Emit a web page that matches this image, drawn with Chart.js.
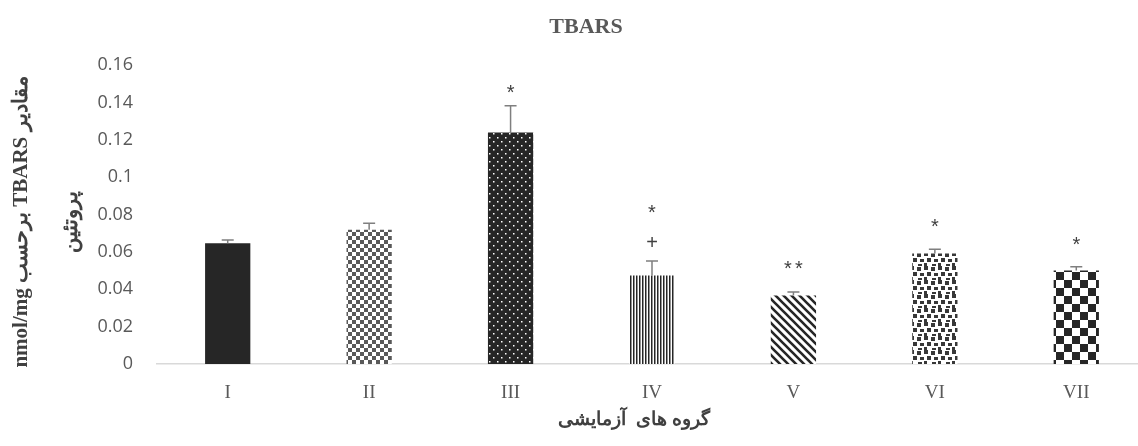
<!DOCTYPE html>
<html>
<head>
<meta charset="utf-8">
<script src="https://cdn.jsdelivr.net/npm/chart.js@4.4.1/dist/chart.umd.min.js"></script>
<style>
  html, body { margin: 0; padding: 0; background: #fff; overflow: hidden; }
  #wrap { position: relative; width: 1148px; height: 446px; }
</style>
</head>
<body>
<div id="wrap"><canvas id="chart" width="1148" height="446"></canvas></div>
<script>
// values
const categories = ['I', 'II', 'III', 'IV', 'V', 'VI', 'VII'];
const means = [0.0646, 0.0719, 0.1239, 0.0474, 0.0366, 0.0591, 0.0500];
const errors = [0.0017, 0.0034, 0.0143, 0.0077, 0.0019, 0.0023, 0.0021];
const marks = ['', '', '*', '*', '**', '*', '*'];
const markLevels = [null, null, 0.1471, 0.0828, 0.0528, 0.0753, 0.0657];
const extraMarks = ['', '', '', '+', '', '', ''];
const extraLevels = [null, null, null, 0.0646, null, null, null];
const yTicks = [0, 0.02, 0.04, 0.06, 0.08, 0.1, 0.12, 0.14, 0.16];

const chartTitle = 'TBARS';
const yTitleLines = ['مقادیر TBARS برحسب nmol/mg', 'پروتئین'];
const xTitle = 'گروه های  آزمایشی';

const DARK = '#262626';
const GREY = '#595959';

// pattern fills, one per bar
function makePattern(size, draw) {
    const c = document.createElement('canvas');
    c.width = size;
    c.height = size;
    const g = c.getContext('2d');
    draw(g, size);
    return document.getElementById('chart').getContext('2d').createPattern(c, 'repeat');
}

const fills = [
    DARK,
    makePattern(8, (g) => {
        g.fillStyle = '#fff'; g.fillRect(0, 0, 8, 8);
        g.fillStyle = GREY;
        g.fillRect(0, 0, 4, 4); g.fillRect(4, 4, 4, 4);
    }),
    makePattern(8, (g) => {
        g.fillStyle = DARK; g.fillRect(0, 0, 8, 8);
        g.fillStyle = '#fff';
        g.fillRect(1, 1, 1.5, 1.5); g.fillRect(5, 5, 1.5, 1.5);
    }),
    makePattern(3, (g) => {
        g.fillStyle = '#fff'; g.fillRect(0, 0, 3, 3);
        g.fillStyle = DARK; g.fillRect(0, 0, 1.5, 3);
    }),
    makePattern(8, (g) => {
        g.fillStyle = '#fff'; g.fillRect(0, 0, 8, 8);
        g.strokeStyle = DARK; g.lineWidth = 2.6;
        g.beginPath();
        g.moveTo(-2, -2); g.lineTo(10, 10);
        g.moveTo(-6, 2); g.lineTo(2, 10);
        g.moveTo(6, -2); g.lineTo(14, 6);
        g.stroke();
    }),
    makePattern(14, (g) => {
        g.fillStyle = '#fff'; g.fillRect(0, 0, 14, 14);
        g.fillStyle = '#383838';
        g.fillRect(0, 0, 4, 4); g.fillRect(7, 1, 4, 4);
        g.fillRect(3, 6, 4, 4); g.fillRect(10, 7, 4, 3);
        g.fillRect(0, 11, 3, 3); g.fillRect(8, 12, 4, 2);
    }),
    makePattern(16, (g) => {
        g.fillStyle = '#fff'; g.fillRect(0, 0, 16, 16);
        g.fillStyle = DARK;
        g.fillRect(0, 0, 8, 8); g.fillRect(8, 8, 8, 8);
    })
];

// error bars, significance marks and the hand-placed titles
const extrasPlugin = {
    id: 'extras',
    afterDatasetsDraw(chart) {
        const { ctx, scales } = chart;
        const x = scales.x;
        const y = scales.y;
        ctx.save();
        ctx.strokeStyle = '#7f7f7f';
        ctx.lineWidth = 1.5;
        means.forEach((m, i) => {
            const cx = x.getPixelForValue(i);
            const yTop = y.getPixelForValue(m);
            const yErr = y.getPixelForValue(m + errors[i]);
            ctx.beginPath();
            ctx.moveTo(cx, yTop);
            ctx.lineTo(cx, yErr);
            ctx.moveTo(cx - 6, yErr);
            ctx.lineTo(cx + 6, yErr);
            ctx.stroke();
        });
        ctx.fillStyle = '#404040';
        ctx.textAlign = 'center';
        ctx.textBaseline = 'middle';
        ctx.font = '20px "Liberation Sans", sans-serif';
        marks.forEach((t, i) => {
            if (!t) return;
            const cx = x.getPixelForValue(i);
            const cy = y.getPixelForValue(markLevels[i]) + 4;
            const n = t.length;
            for (let k = 0; k < n; k++) {
                ctx.fillText(t[k], cx + (k - (n - 1) / 2) * 11, cy);
            }
        });
        extraMarks.forEach((t, i) => {
            if (!t) return;
            ctx.fillText(t, x.getPixelForValue(i), y.getPixelForValue(extraLevels[i]));
        });
        ctx.restore();
    },
    afterDraw(chart) {
        const { ctx } = chart;
        ctx.save();
        ctx.fillStyle = GREY;
        ctx.textAlign = 'center';
        ctx.textBaseline = 'middle';
        ctx.font = 'bold 22px "Liberation Serif", serif';
        ctx.fillText(chartTitle, 586, 27);

        ctx.fillStyle = '#404040';
        ctx.direction = 'rtl';
        ctx.font = 'bold 19px "Liberation Serif", serif';
        ctx.fillText(xTitle, 634, 420);

        ctx.translate(0, 222);
        ctx.rotate(-Math.PI / 2);
        ctx.font = 'bold 21px "Liberation Serif", serif';
        ctx.fillText(yTitleLines[0], 0, 22);
        ctx.fillText(yTitleLines[1], 0, 72);
        ctx.restore();
    }
};

new Chart(document.getElementById('chart'), {
    type: 'bar',
    data: {
        labels: categories,
        datasets: [{
            data: means,
            backgroundColor: fills,
            borderWidth: 0,
            barPercentage: 0.32,
            categoryPercentage: 1
        }]
    },
    options: {
        responsive: false,
        animation: false,
        devicePixelRatio: 1,
        layout: { padding: { top: 65, left: 0, right: 1, bottom: 0 } },
        plugins: {
            legend: { display: false },
            title: { display: false },
            tooltip: { enabled: false }
        },
        scales: {
            x: {
                grid: { display: false, drawTicks: false },
                border: { display: true, color: '#d9d9d9', width: 1.5 },
                ticks: {
                    color: GREY,
                    padding: 18,
                    font: { family: '"Liberation Serif", serif', size: 19 }
                },
                afterFit(scale) { scale.height = 82; }
            },
            y: {
                min: 0,
                max: 0.16,
                afterBuildTicks(scale) { scale.ticks = yTicks.map(v => ({ value: v })); },
                grid: { display: false, drawTicks: false },
                border: { display: false },
                ticks: {
                    color: GREY,
                    padding: 24,
                    font: { family: '"Open Sans", sans-serif', size: 18 },
                    callback: (v) => String(Math.round(v * 100) / 100)
                },
                afterFit(scale) { scale.width = 157; }
            }
        }
    },
    plugins: [extrasPlugin]
});
</script>
</body>
</html>
